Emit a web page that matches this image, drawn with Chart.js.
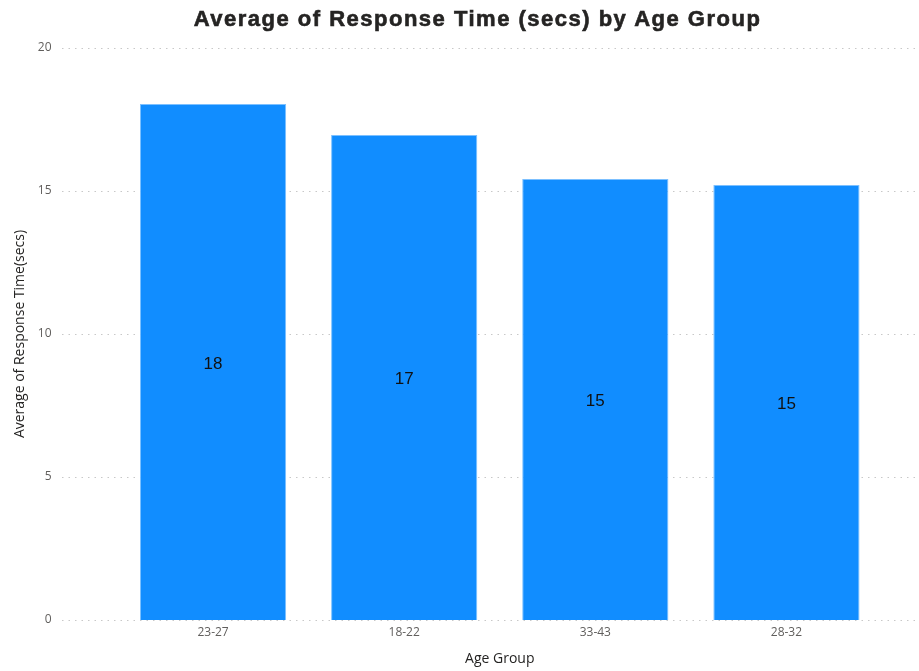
<!DOCTYPE html>
<html>
<head>
<meta charset="utf-8">
<script src="https://cdn.jsdelivr.net/npm/chart.js@4.4.1/dist/chart.umd.min.js"></script>
<style>
  html, body { margin: 0; padding: 0; background: #fff; }
  #wrap { position: relative; width: 919px; height: 671px; }
  #wrap canvas { display: block; }
  #title {
    position: absolute; top: 6px; left: 0; width: 955px; text-align: center;
    font: bold 22px "Liberation Sans", Arial, sans-serif; color: #252423;
    letter-spacing: 1.5px; -webkit-text-stroke: 0.6px #252423;
  }
</style>
</head>
<body>
<div id="wrap">
  <canvas id="chart" width="919" height="671"></canvas>
  <div id="title">Average of Response Time (secs) by Age Group</div>
</div>
<script>
let ageGroups = ["23-27", "18-22", "33-43", "28-32"];
let responseTimes = [18.04, 16.96, 15.42, 15.21];
let yTicks = [0, 5, 10, 15, 20];

let tickFont = { family: "'Open Sans', sans-serif", size: 12 };
let tickColor = "#605E5C";

// dotted grid lines that run wider than the bar area
let dottedGrid = {
    id: "dottedGrid",
    beforeDatasetsDraw(chart) {
        let ctx = chart.ctx;
        let y = chart.scales.y;
        ctx.save();
        ctx.strokeStyle = "#c8c8c8";
        ctx.lineWidth = 1;
        ctx.setLineDash([1.5, 5]);
        yTicks.forEach((t) => {
            let py = Math.round(y.getPixelForValue(t)) + 0.5;
            ctx.beginPath();
            ctx.moveTo(62, py);
            ctx.lineTo(915, py);
            ctx.stroke();
        });
        ctx.restore();
    },
};

// value labels in the middle of each bar
let barLabels = {
    id: "barLabels",
    afterDatasetsDraw(chart) {
        let ctx = chart.ctx;
        let meta = chart.getDatasetMeta(0);
        ctx.save();
        ctx.fillStyle = "#111111";
        ctx.font = "17px 'Liberation Sans', Arial, sans-serif";
        ctx.textAlign = "center";
        ctx.textBaseline = "middle";
        meta.data.forEach((bar, i) => {
            let mid = (bar.y + bar.base) / 2 + 2;
            ctx.fillText(String(Math.round(responseTimes[i])), bar.x, mid);
        });
        ctx.restore();
    },
};

let chartData = {
    labels: ageGroups,
    datasets: [
        {
            data: responseTimes,
            backgroundColor: "#118DFF",
            borderColor: "#7cc0ff",
            borderWidth: 1,
            categoryPercentage: 1,
            barPercentage: 0.765,
        },
    ],
};

let chartOptions = {
    responsive: false,
    animation: false,
    layout: {
        padding: { top: 48, right: 37, bottom: 0, left: 0 },
    },
    scales: {
        x: {
            grid: { display: false, drawTicks: false },
            border: { display: false },
            ticks: { color: tickColor, font: tickFont, padding: 5 },
            title: {
                display: true,
                text: "Age Group",
                color: "#252423",
                font: { family: "'Open Sans', sans-serif", size: 14 },
                padding: { top: 4, bottom: 4 },
            },
            afterFit(scale) {
                scale.height = 51;
            },
        },
        y: {
            min: 0,
            max: 20,
            grid: { display: false, drawTicks: false },
            border: { display: false },
            ticks: {
                stepSize: 5,
                color: tickColor,
                font: tickFont,
                padding: 66,
            },
            title: {
                display: true,
                text: "Average of Response Time(secs)",
                color: "#252423",
                font: { family: "'Open Sans', sans-serif", size: 14 },
                padding: { top: 12, bottom: 4 },
            },
            afterFit(scale) {
                scale.width = 117.5;
                scale.paddingTop = 8;
                scale.paddingBottom = 8;
            },
        },
    },
    plugins: {
        legend: { display: false },
        tooltip: { enabled: false },
    },
};

let responseChart = new Chart(document.getElementById("chart"), {
    type: "bar",
    data: chartData,
    options: chartOptions,
    plugins: [dottedGrid, barLabels],
});
</script>
</body>
</html>
